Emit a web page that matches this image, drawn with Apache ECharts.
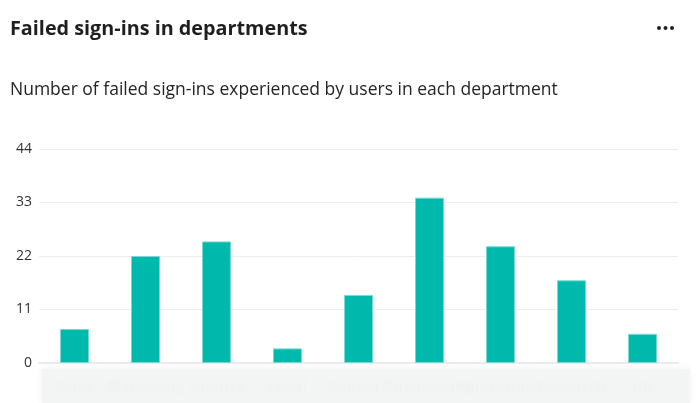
<!DOCTYPE html>
<html>
<head>
<meta charset="utf-8">
<script src="https://cdn.jsdelivr.net/npm/echarts@6/dist/echarts.min.js"></script>
<style>
html,body{margin:0;padding:0;background:#fff;}
#chart{width:699px;height:403px;}
</style>
</head>
<body>
<div id="chart"></div>
<script>
var titleText = 'Failed sign-ins in departments';
var subtitleText = 'Number of failed sign-ins experienced by users in each department';
var departments = ['Sales', 'Marketing', 'Finance', 'Legal', 'Support', 'Engineering', 'Operations', 'Research', 'HR'];
var failedSignIns = [7, 22, 25, 3, 14, 34, 24, 17, 6];
var yTicks = [0, 11, 22, 33, 44];

var chart = echarts.init(document.getElementById('chart'));
chart.setOption({
  backgroundColor: '#ffffff',
  animation: false,
  title: [{
    text: titleText,
    left: 10, top: 19, padding: 0,
    textStyle: {fontFamily: 'Open Sans', fontWeight: 'bold', fontSize: 19.8, color: '#1f1f1f'}
  }, {
    text: subtitleText,
    left: 10, top: 81, padding: 0,
    textStyle: {fontFamily: 'Open Sans', fontWeight: 'normal', fontSize: 17.5, color: '#252423'}
  }],
  graphic: [
    {type: 'rect', left: 42, top: 369, shape: {width: 648, height: 34},
     style: {fill: '#f3f4f4', shadowBlur: 8, shadowColor: '#f0f0f0'}, z: 0},
    {type: 'circle', shape: {cx: 659, cy: 28, r: 2}, style: {fill: '#222'}},
    {type: 'circle', shape: {cx: 665.5, cy: 28, r: 2}, style: {fill: '#222'}},
    {type: 'circle', shape: {cx: 672, cy: 28, r: 2}, style: {fill: '#222'}}
  ],
  grid: {left: 39, right: 21, top: 149, bottom: 40, containLabel: false},
  xAxis: {
    type: 'category',
    data: departments,
    axisLine: {show: true, lineStyle: {color: '#ebebeb', width: 2}},
    axisTick: {show: false},
    axisLabel: {
      interval: 0,
      margin: 16,
      fontFamily: 'Open Sans', fontSize: 15, fontWeight: 'bold',
      color: 'rgba(215,217,217,0.04)',
      textShadowColor: 'rgba(175,177,177,0.9)', textShadowBlur: 18
    }
  },
  yAxis: {
    type: 'value',
    min: yTicks[0], max: yTicks[yTicks.length - 1], interval: 11,
    axisLine: {show: false},
    axisTick: {show: false},
    axisLabel: {fontFamily: 'Open Sans', fontSize: 14, color: '#333333', margin: 7},
    splitLine: {lineStyle: {color: '#ececec', width: 1}}
  },
  series: [{
    type: 'bar',
    data: failedSignIns,
    barWidth: 29,
    itemStyle: {color: '#00b9ad', borderColor: '#7ad9d2', borderWidth: 1}
  }]
});
</script>
</body>
</html>
